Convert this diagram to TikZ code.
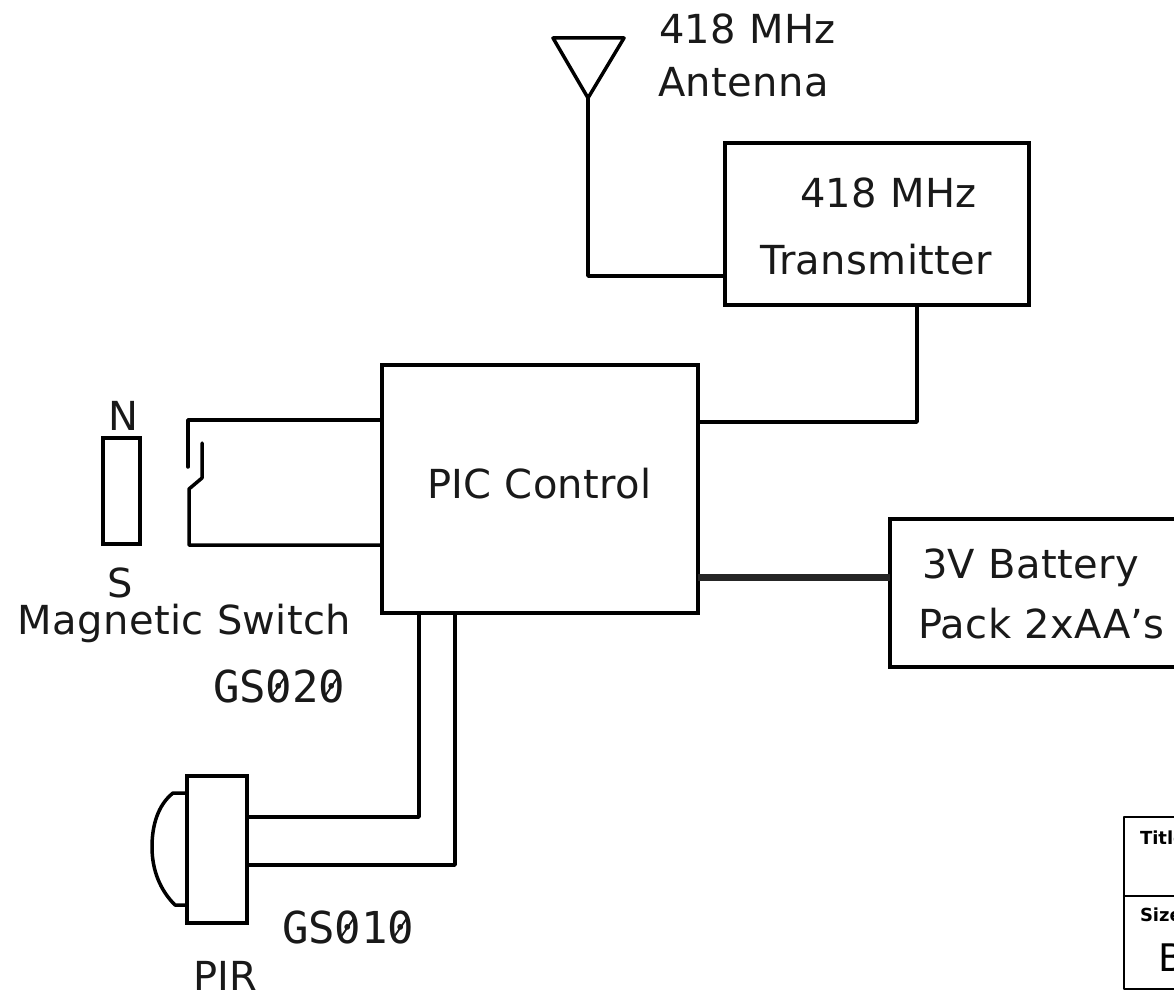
\documentclass[tikz,border=0pt]{standalone}
\usepackage{fontspec}
\setmainfont[LetterSpace=1]{DejaVu Sans}
\newfontfamily\monof{DejaVu Sans Mono}
\newfontfamily\plainf{DejaVu Sans}
\tikzset{
  x=0.5pt,y=-0.5pt,
  wire/.style={line width=1.75pt,line join=round,line cap=round,black},
  busline/.style={line width=3.5pt,black!85},
  blockbox/.style={draw=black,line width=1.75pt,rectangle,inner sep=0pt,outer sep=0pt},
  label/.style={inner sep=0pt,outer sep=0pt,anchor=base west,font=\fontsize{20}{21}\selectfont,text=black!90},
  monolabel/.style={label,font=\monof\fontsize{22}{23}\selectfont},
  tinylabel/.style={inner sep=0pt,outer sep=0pt,anchor=base west,font=\plainf\bfseries\fontsize{9}{10}\selectfont},
  slashmark/.style={line width=0.9pt,black!90},
}
\begin{document}
\begin{tikzpicture}
\useasboundingbox (0,0) rectangle (1174,995);
\clip (0,0) rectangle (1174,995);
% blocks
\node[blockbox,minimum width=152pt,minimum height=81pt] (tx) at (877,224) {};
\node[blockbox,minimum width=158pt,minimum height=124pt] (pic) at (540,489) {};
\node[blockbox,minimum width=160pt,minimum height=74pt] (bat) at (1050,593) {};
\node[blockbox,minimum width=18.5pt,minimum height=53pt] (mag) at (121.5,491) {};
\node[blockbox,minimum width=30pt,minimum height=73.5pt] (pir) at (217,849.5) {};
% antenna
\coordinate (antL) at (553,38);
\coordinate (antR) at (624,38);
\coordinate (antT) at (588,98);
\draw[wire] (antL) -- (antR) -- (antT) -- cycle;
\coordinate (antB) at (588,276);
\draw[wire] (antT) -- (antB) -- (antB -| tx.west);
% tx to pic
\coordinate (txd) at (917,422);
\draw[wire] (txd |- tx.south) -- (txd) -- (txd -| pic.east);
% battery
\coordinate (bp) at (698,577);
\draw[busline] (bp) -- (bp -| bat.west);
% switch
\coordinate (swA) at (188,420);
\coordinate (swB) at (188,467);
\coordinate (swC) at (189,545);
\coordinate (swD) at (189,489);
\coordinate (swE) at (202,478);
\coordinate (swF) at (202,443);
\draw[wire] (swB) -- (swA) -- (swA -| pic.west);
\draw[wire] (swF) -- (swE) -- (swD) -- (swC) -- (swC -| pic.west);
% PIR wires
\coordinate (pa) at (419,817);
\coordinate (pb) at (455,865);
\draw[wire] (pa |- pic.south) -- (pa) -- (pa -| pir.east);
\draw[wire] (pb |- pic.south) -- (pb) -- (pb -| pir.east);
% lens
\coordinate (lensT) at (187,793);
\coordinate (lensB) at (187,905);
\draw[wire] (lensT) -- (173,793) .. controls (158,805) and (152,825) .. (152,847) .. controls (152,870) and (160,890) .. (175,905) -- (lensB);
% texts
\node[label] (t1) at (659,44) {418 MHz};
\node[label] (t2) at (658,97) {Antenna};
\node[label] (t3) at (800,207) {418 MHz};
\node[label] (t4) at (760,274) {Transmitter};
\node[label] (t5) at (427,498) {PIC Control};
\node[label] (t6) at (922,578) {3V Battery};
\node[label] (t7) at (918,638) {Pack 2xAA's};
\node[label] (t8) at (108,430) {N};
\node[label] (t9) at (107,597) {S};
\node[label] (t10) at (18,634) {Magnetic Switch};
\node[monolabel] (t11) at (213,702) {GS020};
\node[monolabel] (t12) at (282,943) {GS010};
\node[label] (t13) at (193,990) {PIR};
% slashes of the zeros
\foreach \nm/\dx in {t11/66,t11/119,t12/66,t12/119}{
  \draw[slashmark] ([shift={(\dx-7,-6)}]\nm.base west) -- ([shift={(\dx+6,-25)}]\nm.base west);
}
% title block
\coordinate (tbA) at (1124,817);
\coordinate (tbB) at (1124,989);
\coordinate (tbC) at (1124,896);
\draw[wire,line width=1.2pt] (1174,817) -- (tbA) -- (tbB) -- (1174,989);
\draw[wire,line width=1.2pt] (tbC) -- (1174,896);
\node[tinylabel] (t14) at (1140,844) {Title};
\node[tinylabel] (t15) at (1140,921) {Size};
\node[inner sep=0pt,anchor=base west,font=\plainf\fontsize{19}{20}\selectfont] (t16) at (1158,971) {B};
\end{tikzpicture}
\end{document}
